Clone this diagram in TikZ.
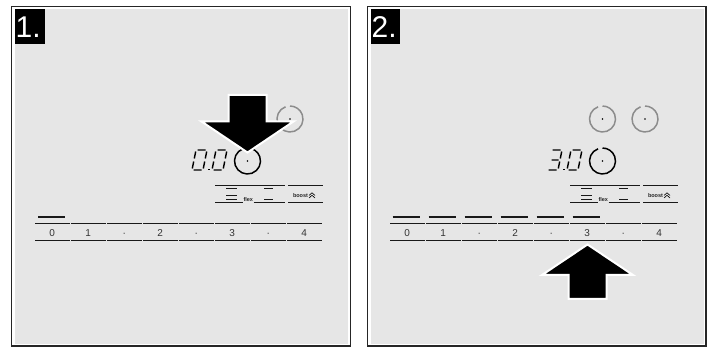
\documentclass[tikz,border=0pt]{standalone}
\usepackage{fontspec}
\setmainfont{Liberation Sans}
\definecolor{panelgray}{HTML}{E6E6E6}
\definecolor{ringgray}{HTML}{8C8C8C}
\tikzset{
  panelborder/.style={draw=black!85, line width=1.3pt, fill=white},
  panelfill/.style={fill=panelgray},
  labelbox/.style={fill=black},
  labeltext/.style={text=white, font=\fontsize{30}{30}\selectfont, inner sep=0pt, anchor=base west},
  ctrl/.style={draw=black!90, line width=0.9pt},
  dashmark/.style={draw=black!90, line width=0.8pt},
  levelbar/.style={draw=black!90, line width=2pt},
  seg/.style={draw=black, line width=1.4pt, line cap=butt},
  ring/.style={line width=1.5pt},
  bigarrow/.style={fill=black, draw=white, line width=2pt, line join=miter},
  slabel/.style={text=black!80, font=\fontsize{10}{10}\selectfont, inner sep=0pt, anchor=base},
  tinytext/.style={text=black!85, font=\fontsize{5.5}{6}\selectfont\bfseries, inner sep=0pt},
}
% seven-segment digits, baseline y=170, height 20, width 11
\newcommand{\digzero}[1]{%
  \begin{scope}[shift={(#1,170)}, xslant=0.2]
    \draw[seg] (1.5,-20)--(9.5,-20) (11,-18.5)--(11,-11.5) (11,-8.5)--(11,-1.5)
      (1.5,0)--(9.5,0) (0,-1.5)--(0,-8.5) (0,-11.5)--(0,-18.5);
  \end{scope}}
\newcommand{\digthree}[1]{%
  \begin{scope}[shift={(#1,170)}, xslant=0.2]
    \draw[seg] (1.5,-20)--(9.5,-20) (11,-18.5)--(11,-11.5) (11,-8.5)--(11,-1.5)
      (1.5,0)--(9.5,0) (2.5,-10)--(9.5,-10);
  \end{scope}}
\newcommand{\ringicon}[3]{%
  \draw[ring,#3] (#1,#2) ++(110:13pt) arc[start angle=110, end angle=450, radius=13pt];
  \fill[black] (#1,#2) circle[radius=0.9pt];}
\newcommand{\panelbody}{%
  % slider
  \foreach \i/\lab in {0/0,1/1,2/·,3/2,4/·,5/3,6/·,7/4}{
    \draw[ctrl] ({35+36*\i},223) -- ({69.5+36*\i},223);
    \draw[ctrl] ({35+36*\i},240) -- ({69.5+36*\i},240);
    \node[slabel] (lab\i) at ({52.25+36*\i},236.5) {\lab};
  }
  % control block
  \draw[ctrl] (215,185) -- (285,185) (288,185) -- (323,185);
  \draw[ctrl] (215,202) -- (243,202) (253.5,202) -- (285,202) (288,202) -- (323,202);
  \draw[dashmark] (226,188.5) -- (237,188.5) (226,195) -- (237,195) (226,199.5) -- (237,199.5);
  \draw[dashmark] (264,188.5) -- (273,188.5) (264,199.5) -- (273,199.5);
  \node[tinytext, anchor=base] (flex) at (248.3,202) {flex};
  \node[tinytext] (boost) at (300.5,195.5) {boost};
  \draw[line width=0.6pt] (309,195.5)--(312,192.8)--(315,195.5) (309,198)--(312,195.3)--(315,198);
  % active ring
  \ringicon{247.5}{161}{black}
  \ringicon{290}{119}{ringgray}
}
\begin{document}
\begin{tikzpicture}[x=1pt,y=-1pt]
\useasboundingbox (0,0) rectangle (712,347);
\fill[white] (0,0) rectangle (712,347);

% ---------- panel 1 ----------
\draw[panelborder] (11.5,6.5) rectangle (350.5,346);
\fill[panelfill] (14.5,9) rectangle (348,343.5);
\fill[labelbox] (15,9) rectangle (45,44);
\node[labeltext] (t1) at (15.5,37.5) {1.};
\panelbody
\draw[levelbar] (38,217) -- (65,217);
\digzero{192}
\fill[black] (207.7,168.6) rectangle (209.5,170.4);
\digzero{212}
% down arrow
\draw[bigarrow] (228.5,95) -- (266.5,95) -- (266.5,121.5) -- (293.5,121.5)
  -- (247.5,152.5) -- (201.5,121.5) -- (228.5,121.5) -- cycle;

% ---------- panel 2 ----------
\draw[panelborder] (367.5,6.5) rectangle (706,346);
\fill[panelfill] (370.5,9) rectangle (703.5,343.5);
\fill[labelbox] (371,9) rectangle (400,44);
\node[labeltext] (t2) at (371.5,37.5) {2.};
\begin{scope}[shift={(355,0)}]
  \panelbody
  \ringicon{247.5}{119}{ringgray}
  \foreach \i in {0,...,5}{
    \draw[levelbar] ({37.5+36*\i},217) -- ({64.5+36*\i},217);
  }
  \digthree{192}
  \fill[black] (207.7,168.6) rectangle (209.5,170.4);
  \digzero{212}
\end{scope}
% up arrow
\draw[bigarrow] (587.5,244.5) -- (633,275) -- (606.5,275) -- (606.5,299)
  -- (568.5,299) -- (568.5,275) -- (542,275) -- cycle;
\end{tikzpicture}
\end{document}
